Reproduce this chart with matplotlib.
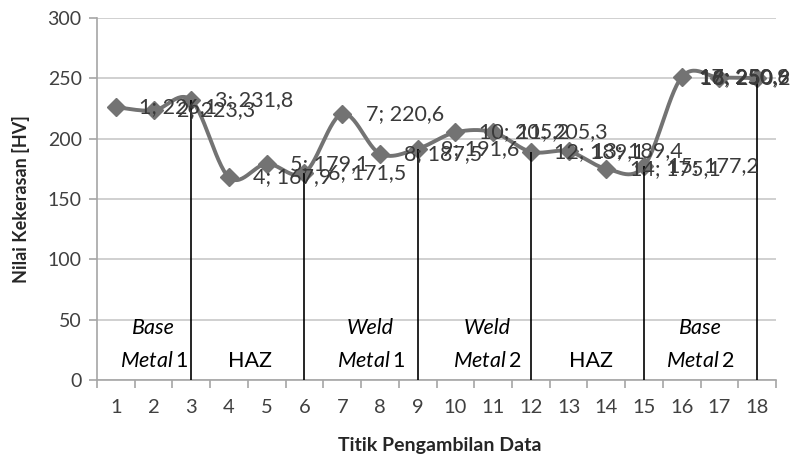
import numpy as np
import matplotlib
matplotlib.use("Agg")
import matplotlib.pyplot as plt

plt.rcParams['font.family'] = ['Lato', 'DejaVu Sans']
plt.rcParams['mathtext.fontset'] = 'custom'
plt.rcParams['mathtext.it'] = 'Lato:italic'
plt.rcParams['mathtext.rm'] = 'Lato'

points = list(range(1, 19))
hardness = [226.1, 223.3, 231.8, 167.9, 179.1, 171.5, 220.6, 187.5, 191.6,
            205.2, 205.3, 189.1, 189.4, 175.1, 177.2, 250.9, 250.6, 250.2]
boundaries = [3, 6, 9, 12, 15, 18]
region_names = [("Base", "1"), ("HAZ", None), ("Weld", "1"),
                ("Weld", "2"), ("HAZ", None), ("Base", "2")]
region_centers = [2.0, 4.55, 7.75, 10.85, 13.6, 16.5]

fig = plt.figure(figsize=(7.97, 4.59), dpi=100)
ax = fig.add_axes([0.1217, 0.172, 0.852, 0.789])

ax.set_xlim(0.5, 18.5)
ax.set_ylim(0, 300)
ax.set_yticks(np.arange(0, 301, 50))
ax.set_xticks(points)
ax.set_xticks(np.arange(0.5, 18.6, 1), minor=True)
ax.yaxis.grid(True, color='#c8c8c8', linewidth=1.2)
ax.set_axisbelow(True)
for s in ['top', 'right']:
    ax.spines[s].set_visible(False)
for s in ['left', 'bottom']:
    ax.spines[s].set_color('#a6a6a6')
    ax.spines[s].set_linewidth(1.2)
ax.tick_params(axis='x', which='major', length=0, pad=14, labelsize=14.5, labelcolor='#404040')
ax.tick_params(axis='x', which='minor', length=6, color='#a6a6a6', width=1.2)
ax.tick_params(axis='y', length=6, color='#a6a6a6', width=1.2, labelsize=14, labelcolor='#404040', pad=5)

# smoothed line (Bezier through points, like Excel's smoothed line)
x = np.array(points, dtype=float)
y = np.array(hardness, dtype=float)
xs, ys = [], []
n = len(x)
for i in range(n - 1):
    p0 = np.array([x[max(i - 1, 0)], y[max(i - 1, 0)]])
    p1 = np.array([x[i], y[i]])
    p2 = np.array([x[i + 1], y[i + 1]])
    p3 = np.array([x[min(i + 2, n - 1)], y[min(i + 2, n - 1)]])
    c1 = p1 + (p2 - p0) / 6.0
    c2 = p2 - (p3 - p1) / 6.0
    t = np.linspace(0, 1, 30)[:, None]
    seg = (1 - t) ** 3 * p1 + 3 * (1 - t) ** 2 * t * c1 + 3 * (1 - t) * t ** 2 * c2 + t ** 3 * p2
    xs.extend(seg[:, 0]); ys.extend(seg[:, 1])
ax.plot(xs, ys, color='#737373', linewidth=2.8, zorder=3, solid_capstyle='round')
ax.plot(x, y, linestyle='none', marker='D', markersize=9, color='#737373', zorder=4)

# boundary lines
bvals = [hardness[points.index(b)] for b in boundaries]
ax.vlines(boundaries, 0, bvals, colors='black', linewidth=1.2, zorder=5)

# data labels
labels = []
for xi, yi in zip(points, hardness):
    txt = f"{xi}; {yi:.1f}".replace('.', ',')
    t = ax.annotate(txt, (xi, yi), xytext=(17, 0), textcoords='offset points',
                    ha='left', va='center', fontsize=15.5, color='#3a3a3a', zorder=6,
                    annotation_clip=False)
    labels.append(t)

# region labels
for (word, num), cx in zip(region_names, region_centers):
    if num is None:
        ax.text(cx, 16, word, ha='center', va='center', fontsize=15.5, color='black')
    else:
        ax.text(cx, 43, word, ha='center', va='center', fontsize=15.5, color='black', style='italic')
        ax.text(cx, 16, r"$\mathit{Metal}\,$" + num, ha='center', va='center', fontsize=15.5, color='black')

ax.set_ylabel("Nilai Kekerasan [HV]", fontsize=13, fontweight='bold', color='#262626')
ax.set_xlabel("Titik Pengambilan Data", fontsize=14, fontweight='bold', color='#262626')
ax.yaxis.set_label_coords(-0.112, 0.5)
ax.xaxis.set_label_coords(0.505, -0.18)
ax.xaxis.label.set_va('center')
ax.yaxis.label.set_va('center')

# keep labels inside the figure like Excel does
fig.canvas.draw()
r = fig.canvas.get_renderer()
W = fig.bbox.width
for t in labels:
    bb = t.get_window_extent(r)
    if bb.x1 > W - 7:
        shift = bb.x1 - (W - 7)
        t.xyann = (17 - shift * 72 / fig.dpi, 0)

fig.savefig("out.png", dpi=100)
